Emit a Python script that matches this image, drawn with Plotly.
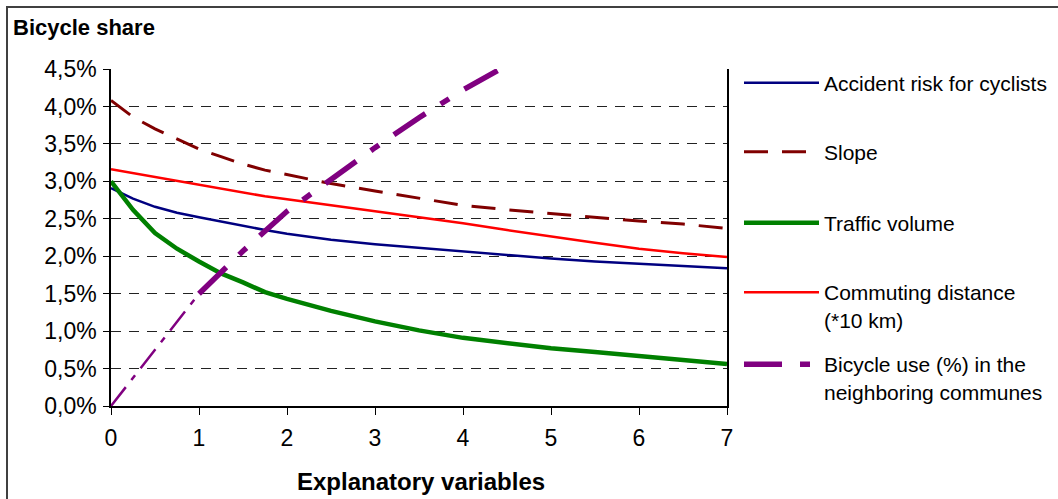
import plotly.graph_objects as go

# ---- data (values in %) ----
x_vals = [0, 0.25, 0.5, 0.75, 1, 1.25, 1.5, 1.75, 2, 2.5, 3, 3.5, 4, 4.5, 5, 5.5, 6, 6.5, 7]
accident = [2.91, 2.77, 2.66, 2.58, 2.52, 2.46, 2.41, 2.35, 2.30, 2.22, 2.16, 2.11, 2.06, 2.01, 1.97, 1.93, 1.90, 1.87, 1.84]
slope = [4.08, 3.86, 3.70, 3.56, 3.43, 3.33, 3.23, 3.15, 3.09, 2.97, 2.87, 2.77, 2.68, 2.62, 2.57, 2.52, 2.47, 2.43, 2.37]
traffic = [3.00, 2.62, 2.31, 2.10, 1.93, 1.77, 1.65, 1.52, 1.43, 1.27, 1.13, 1.01, 0.91, 0.84, 0.77, 0.72, 0.67, 0.61, 0.56]
commuting = [3.16, 3.11, 3.06, 3.00, 2.95, 2.90, 2.85, 2.80, 2.76, 2.68, 2.61, 2.52, 2.44, 2.35, 2.26, 2.18, 2.10, 2.04, 1.99]
x_bike = [0, 0.5, 1, 1.5, 2, 2.5, 3, 3.5, 4, 4.5, 4.65]
bike_use = [0, 0.75, 1.50, 2.07, 2.60, 3.03, 3.45, 3.85, 4.22, 4.55, 4.62]

y_ticks = [0, 0.5, 1, 1.5, 2, 2.5, 3, 3.5, 4, 4.5]
y_tick_labels = ["0,0%", "0,5%", "1,0%", "1,5%", "2,0%", "2,5%", "3,0%", "3,5%", "4,0%", "4,5%"]
x_ticks = [0, 1, 2, 3, 4, 5, 6, 7]

names = ["Accident risk for cyclists", "Slope", "Traffic volume",
         "Commuting distance<br>(*10 km)", "Bicycle use (%) in the<br>neighboring communes"]

FONT = "Liberation Sans, Arial, sans-serif"

fig = go.Figure()
fig.add_trace(go.Scatter(x=x_vals, y=accident, mode="lines", name=names[0],
                         line=dict(color="#000080", width=2.5), legend="legend"))
fig.add_trace(go.Scatter(x=x_vals, y=slope, mode="lines", name=names[1],
                         line=dict(color="#800000", width=3, dash="24px,14px"), legend="legend2"))
fig.add_trace(go.Scatter(x=x_vals, y=traffic, mode="lines", name=names[2],
                         line=dict(color="#008000", width=4.5), legend="legend3"))
fig.add_trace(go.Scatter(x=x_vals, y=commuting, mode="lines", name=names[3],
                         line=dict(color="#FF0000", width=2.5), legend="legend4"))

thin_x = [x for x in x_bike if x <= 1]
thin_y = [y for x, y in zip(x_bike, bike_use) if x <= 1]
thick_x = [x for x in x_bike if x >= 1]
thick_y = [y for x, y in zip(x_bike, bike_use) if x >= 1]
fig.add_trace(go.Scatter(x=thin_x, y=thin_y, mode="lines", name=names[4], showlegend=False,
                         legendgroup="bike",
                         line=dict(color="#800080", width=2.5, dash="24px,9px,6px,9px")))
fig.add_trace(go.Scatter(x=thick_x, y=thick_y, mode="lines", name=names[4], legendgroup="bike",
                         line=dict(color="#800080", width=5.5, dash="38px,18px,10px,18px"),
                         legend="legend5"))

W, H = 1058, 499

def cy(py):
    return 1 - py / H

def px_to_py(py):
    return (406 - py) / 337.0

def px_to_px(px):
    return (px - 111) / 616.0

leg_common = dict(font=dict(family=FONT, size=21, color="black"), bgcolor="rgba(0,0,0,0)",
                  itemwidth=75, valign="top", xanchor="left", yanchor="middle",
                  xref="container", yref="container", x=739 / W)
fig.update_layout(
    legend=dict(**leg_common, y=cy(83)),
    legend2=dict(**leg_common, y=cy(152)),
    legend3=dict(**leg_common, y=cy(223)),
    legend4=dict(**leg_common, y=cy(306)),
    legend5=dict(**leg_common, y=cy(378)),
)

fig.update_layout(
    width=W, height=H,
    margin=dict(l=111, r=331, t=69, b=93, autoexpand=False),
    paper_bgcolor="white", plot_bgcolor="white",
    font=dict(family=FONT, color="black"),
    xaxis=dict(range=[0, 7], tickvals=x_ticks, showgrid=False, zeroline=False,
               showline=True, linecolor="black", linewidth=1.5,
               ticks="outside", ticklen=7, tickwidth=1, tickcolor="black",
               ticklabelstandoff=4,
               tickfont=dict(family=FONT, size=23, color="black")),
    yaxis=dict(range=[0, 4.5], tickvals=y_ticks, ticktext=y_tick_labels,
               showgrid=True, gridcolor="#222222", gridwidth=1, griddash="10px,8px",
               zeroline=False, showline=True, mirror=True, linecolor="black", linewidth=1.5,
               ticks="outside", ticklen=6, tickwidth=1, tickcolor="black",
               ticklabelstandoff=2,
               tickfont=dict(family=FONT, size=23, color="black")),
    annotations=[
        dict(text="<b>Bicycle share</b>", xref="paper", yref="paper",
             x=px_to_px(11), y=px_to_py(28), xanchor="left", yanchor="middle",
             showarrow=False, font=dict(family=FONT, size=22, color="black")),
        dict(text="<b>Explanatory variables</b>", xref="paper", yref="paper",
             x=px_to_px(421), y=px_to_py(481), xanchor="center", yanchor="middle",
             showarrow=False, font=dict(family=FONT, size=24, color="black")),
    ],
    shapes=[
        dict(type="rect", xref="paper", yref="paper",
             x0=px_to_px(7), x1=px_to_px(1066), y0=px_to_py(7), y1=px_to_py(510),
             line=dict(color="#404040", width=2), fillcolor="rgba(0,0,0,0)", layer="below"),
    ],
)

fig.write_html("out.html", config={"displayModeBar": False},
               post_script="document.body.style.margin='0';")
